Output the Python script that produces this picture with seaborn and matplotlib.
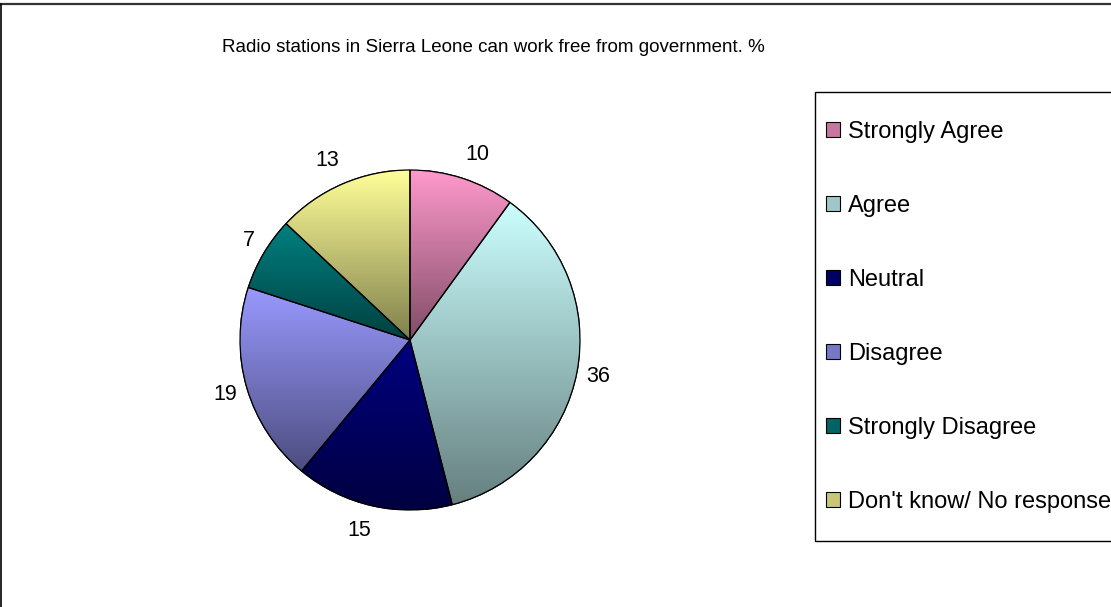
import numpy as np
import matplotlib
matplotlib.use("Agg")
import matplotlib.pyplot as plt
import seaborn as sns
from matplotlib.patches import Patch, Rectangle, Wedge
from matplotlib.lines import Line2D
from matplotlib.colors import to_rgb

categories = ["Strongly Agree", "Agree", "Neutral", "Disagree",
              "Strongly Disagree", "Don't know/ No response"]
values = [10, 36, 15, 19, 7, 13]
colors = ["#FF99CC", "#CCFFFF", "#000080", "#9999FF", "#008080", "#FFFF99"]
title = "Radio stations in Sierra Leone can work free from government. %"

sns.set_theme(style="white")
plt.rcParams['font.family'] = ['Liberation Sans', 'DejaVu Sans']
plt.rcParams['text.color'] = 'black'

W, H = 1111, 607
fig = plt.figure(figsize=(W / 100, H / 100), dpi=100)
fig.patch.set_facecolor("white")

cx, cy, r = 410, 340, 170
ax = fig.add_axes([(cx - r) / W, (H - cy - r) / H, 2 * r / W, 2 * r / H])

wedges, _ = ax.pie(values, colors=colors, startangle=90, counterclock=False,
                   wedgeprops=dict(edgecolor="black", linewidth=0.9))

for w, c in zip(wedges, colors):
    bb = w.get_path().get_extents()
    top = np.array(to_rgb(c))
    bot = top * 0.5
    t = np.linspace(0, 1, 256)[:, None, None]
    grad = top[None, None, :] * (1 - t) + bot[None, None, :] * t
    im = ax.imshow(grad, extent=(bb.x0, bb.x1, bb.y0, bb.y1), aspect="auto",
                   origin="upper", zorder=w.get_zorder() + 0.1, interpolation="bilinear")
    im.set_clip_path(w)
    ax.add_patch(Wedge(w.center, w.r, w.theta1, w.theta2, facecolor="none",
                       edgecolor="black", linewidth=0.9, zorder=w.get_zorder() + 0.2))

# value labels outside the slices
for w, v in zip(wedges, values):
    ang = np.deg2rad((w.theta1 + w.theta2) / 2)
    ca, sa = np.cos(ang), np.sin(ang)
    half_w = 5.8 * len(str(v))
    ax.annotate(str(v), xy=(1.06 * ca, 1.06 * sa), xycoords="data",
                xytext=(np.sign(ca) * half_w, 15 * sa),
                textcoords="offset pixels", ha="center", va="center",
                fontsize=15.5, color="black", annotation_clip=False)

ax.set_xlim(-1, 1)
ax.set_ylim(-1, 1)
ax.set_aspect("auto")
ax.axis("off")

fig.text(0.5 * (220 + 766) / W, 1 - 47 / H, title, ha="center", va="center",
         fontsize=13.5, color="black")

# legend frame (extends beyond right edge like the reference)
fig.add_artist(Rectangle((815 / W, 1 - 541 / H), 400 / W, (541 - 92) / H,
                         transform=fig.transFigure, facecolor="white",
                         edgecolor="black", linewidth=1.0, zorder=1))

handles = [Patch(facecolor=tuple(np.array(to_rgb(c)) * 0.78), edgecolor="black",
                 linewidth=0.8) for c in colors]
leg = fig.legend(handles, categories, loc="upper left",
                 bbox_to_anchor=(826 / W, 1 - 121 / H), bbox_transform=fig.transFigure,
                 fontsize=17, frameon=False, labelspacing=2.2, handlelength=0.6,
                 handleheight=0.6, handletextpad=0.34, borderpad=0,
                 borderaxespad=0, labelcolor="black")
leg.set_zorder(2)

# chart border: top and left edges
fig.add_artist(Line2D([0, 1], [1 - 4 / H, 1 - 4 / H], transform=fig.transFigure,
                      color="#333333", linewidth=1.6))
fig.add_artist(Line2D([1 / W, 1 / W], [0, 1 - 4 / H], transform=fig.transFigure,
                      color="black", linewidth=1.2))

fig.savefig("out.png", dpi=100)
